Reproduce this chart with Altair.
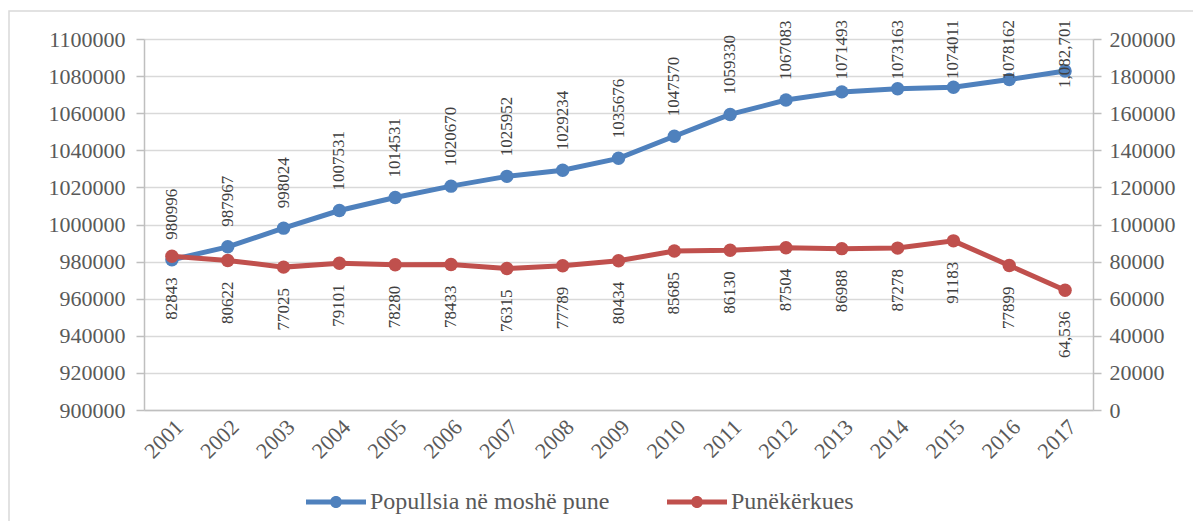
import altair as alt
import pandas as pd

years = [str(y) for y in range(2001, 2018)]
pop_values = [980996, 987967, 998024, 1007531, 1014531, 1020670, 1025952, 1029234,
              1035676, 1047570, 1059330, 1067083, 1071493, 1073163, 1074011, 1078162, 1082701]
pop_labels = ["980996", "987967", "998024", "1007531", "1014531", "1020670", "1025952",
              "1029234", "1035676", "1047570", "1059330", "1067083", "1071493", "1073163",
              "1074011", "1078162", "1,082,701"]
job_values = [82843, 80622, 77025, 79101, 78280, 78433, 76315, 77789, 80434, 85685,
              86130, 87504, 86988, 87278, 91183, 77899, 64536]
job_labels = ["82843", "80622", "77025", "79101", "78280", "78433", "76315", "77789",
              "80434", "85685", "86130", "87504", "86988", "87278", "91183", "77899", "64,536"]
series_names = ["Popullsia në moshë pune", "Punëkërkues"]
left_ticks = list(range(900000, 1100001, 20000))
right_ticks = list(range(0, 200001, 20000))

BLUE = "#4F81BD"
RED = "#C0504D"
FONT = "Liberation Serif"
AXIS_COLOR = "#BFBFBF"
GRID_COLOR = "#D9D9D9"
TEXT_COLOR = "#595959"
LABEL_COLOR = "#404040"

df = pd.DataFrame({
    "year": years * 2,
    "series": [series_names[0]] * len(years) + [series_names[1]] * len(years),
    "value": pop_values + job_values,
    "label": pop_labels + job_labels,
})

x_enc = alt.X("year:O", scale=alt.Scale(type="point", padding=0.5),
              axis=alt.Axis(title=None, labelAngle=-45, labelFont=FONT, labelFontSize=22,
                            labelColor=TEXT_COLOR, ticks=False, domainColor=AXIS_COLOR,
                            domainWidth=1.5, labelPadding=6, grid=False))

left_axis = alt.Axis(title=None, orient="left", values=left_ticks, format="d",
                     labelFont=FONT, labelFontSize=22, labelColor=TEXT_COLOR,
                     domainColor=AXIS_COLOR, domainWidth=1.5, tickColor=AXIS_COLOR,
                     tickSize=8, tickWidth=1.5, labelPadding=11,
                     grid=True, gridColor=GRID_COLOR, gridWidth=1.5)
right_axis = alt.Axis(title=None, orient="right", values=right_ticks, format="d",
                      labelFont=FONT, labelFontSize=22, labelColor=TEXT_COLOR,
                      domainColor=AXIS_COLOR, domainWidth=1.5, tickColor=AXIS_COLOR,
                      tickSize=8, tickWidth=1.5, labelPadding=8, grid=False)

y_left = alt.Y("value:Q", scale=alt.Scale(domain=[900000, 1100000], nice=False, zero=False),
               axis=left_axis)
y_right = alt.Y("value:Q", scale=alt.Scale(domain=[0, 200000], nice=False), axis=right_axis)

base = alt.Chart(df)
blue = base.transform_filter(alt.datum.series == series_names[0])
red = base.transform_filter(alt.datum.series == series_names[1])

color_enc = alt.Color("series:N", scale=alt.Scale(domain=series_names, range=[BLUE, RED]),
                      legend=alt.Legend(
                          title=None, orient="none", direction="horizontal",
                          legendX=180, legendY=451,
                          symbolType="M-5,-0.42L-0.9,-0.42L-0.9,0.42L-5,0.42Z M0.9,-0.42L5,-0.42L5,0.42L0.9,0.42Z M1,0A1,1,0,1,1,-1,0A1,1,0,1,1,1,0Z",
                          symbolSize=144, symbolStrokeWidth=0,
                          labelFont=FONT, labelFontSize=24, labelColor=TEXT_COLOR,
                          labelLimit=500, labelOffset=22, columnPadding=57))

blue_line = blue.mark_line(color=BLUE, strokeWidth=5).encode(x=x_enc, y=y_left)
blue_pts = blue.mark_point(filled=True, size=180, opacity=1).encode(
    x=x_enc, y=y_left, color=color_enc)
blue_lbl = blue.transform_filter(alt.datum.value < 1070000).mark_text(
    angle=270, align="left", baseline="middle", yOffset=-20,
    font=FONT, fontSize=17, color=LABEL_COLOR).encode(
    x=x_enc, y=y_left, text="label:N")
blue_lbl_top = blue.transform_filter(alt.datum.value >= 1070000).mark_text(
    angle=270, align="right", baseline="middle",
    font=FONT, fontSize=17, color=LABEL_COLOR).encode(
    x=x_enc, y=alt.value(-19), text="label:N")

left_layer = alt.layer(blue_line, blue_pts, blue_lbl, blue_lbl_top)

red_line = red.mark_line(color=RED, strokeWidth=5).encode(x=x_enc, y=y_right)
red_pts = red.mark_point(filled=True, size=180, opacity=1).encode(
    x=x_enc, y=y_right, color=color_enc)
red_lbl = red.mark_text(
    angle=270, align="right", baseline="middle", yOffset=21,
    font=FONT, fontSize=17, color=LABEL_COLOR).encode(
    x=x_enc, y=y_right, text="label:N")

right_layer = alt.layer(red_line, red_pts, red_lbl)

frame = alt.Chart(pd.DataFrame({"k": [0]})).mark_rect(
    fill=None, stroke=GRID_COLOR, strokeWidth=1.5).encode(
    x=alt.value(-135), y=alt.value(-28), x2=alt.value(3000), y2=alt.value(3000))

chart = alt.layer(left_layer, right_layer, frame).resolve_scale(
    y="independent"
).properties(
    width=949, height=371,
    padding={"left": 136, "top": 31, "right": 100, "bottom": 111},
    autosize=alt.AutoSizeParams(type="none"),
).configure_view(stroke=None)

chart.save("out.html", embed_options={"renderer": "svg", "actions": False})
